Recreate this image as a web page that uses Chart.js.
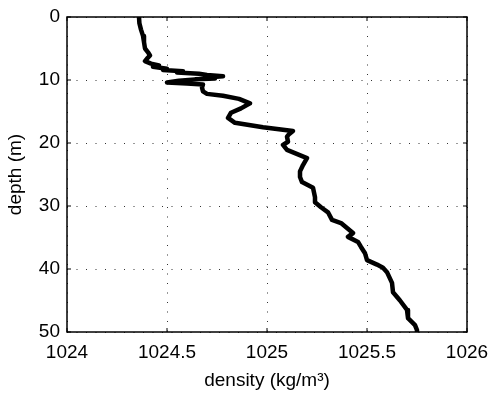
<!DOCTYPE html>
<html>
<head>
<meta charset="utf-8">
<script src="https://cdn.jsdelivr.net/npm/chart.js@4/dist/chart.umd.min.js"></script>
<style>
  html, body { margin: 0; padding: 0; background: #fff; }
  #wrap { width: 492px; height: 397px; }
</style>
</head>
<body>
<div id="wrap"><canvas id="profile"></canvas></div>
<script>
// depth profile (m, kg/m^3)
var depth = [0, 1, 2, 3, 4, 5, 5.6, 6.1, 6.6, 7.0, 7.4, 7.7, 7.9, 8.2, 8.4, 8.6, 8.8, 9.0, 9.2, 9.4,
    9.6, 9.75, 9.9, 10.1, 10.4, 10.55, 10.7, 11.2, 11.8, 12.2, 12.5, 13.0, 13.7, 14.5, 15.2, 16.0,
    16.8, 17.5, 18.1, 18.6, 19.0, 19.8, 20.3, 21.1, 22.4, 23.5, 24.5, 25.4, 26.2, 27.1, 28.6, 29.4,
    30.2, 31.0, 32.2, 32.7, 33.5, 34.3, 34.9, 35.7, 36.5, 37.5, 38.6, 39.3, 39.8, 40.5, 42.2, 43.7,
    45.0, 46.5, 47.8, 48.9, 49.7, 50];
var density = [1024.36, 1024.362, 1024.37, 1024.38, 1024.385, 1024.39, 1024.405, 1024.415, 1024.40, 1024.39,
    1024.42, 1024.46, 1024.43, 1024.50, 1024.48, 1024.58, 1024.55, 1024.66, 1024.70, 1024.78,
    1024.70, 1024.74, 1024.64, 1024.56, 1024.50, 1024.60, 1024.68, 1024.675, 1024.68, 1024.70, 1024.78,
    1024.86, 1024.915, 1024.87, 1024.82, 1024.805, 1024.84, 1024.98, 1025.13, 1025.11, 1025.10,
    1025.105, 1025.08, 1025.10, 1025.20, 1025.18, 1025.165, 1025.165, 1025.175, 1025.23, 1025.24,
    1025.24, 1025.27, 1025.305, 1025.325, 1025.37, 1025.40, 1025.43, 1025.405, 1025.455, 1025.47,
    1025.49, 1025.50, 1025.55, 1025.58, 1025.60, 1025.625, 1025.63, 1025.665, 1025.70, 1025.705,
    1025.74, 1025.75, 1025.75];
var xTicks = [1024, 1024.5, 1025, 1025.5, 1026];
var yTicks = [0, 10, 20, 30, 40, 50];

var fontFam = "'Liberation Sans', Arial, Helvetica, sans-serif";

var points = [];
for (var i = 0; i < depth.length; i++) {
    points.push({ x: density[i], y: depth[i] });
}

// box round the axes plus small inward ticks, matlab style
var boxPlugin = {
    id: 'boxPlugin',
    afterDraw: function (chart) {
        var ctx = chart.ctx, a = chart.chartArea;
        var sx = chart.scales.x, sy = chart.scales.y;
        ctx.save();
        ctx.strokeStyle = '#000';
        ctx.lineWidth = 1;
        ctx.beginPath();
        xTicks.forEach(function (v) {
            var px = sx.getPixelForValue(v);
            ctx.moveTo(px, a.bottom); ctx.lineTo(px, a.bottom - 4);
            ctx.moveTo(px, a.top); ctx.lineTo(px, a.top + 4);
        });
        yTicks.forEach(function (v) {
            var py = sy.getPixelForValue(v);
            ctx.moveTo(a.left, py); ctx.lineTo(a.left + 4, py);
            ctx.moveTo(a.right, py); ctx.lineTo(a.right - 4, py);
        });
        ctx.stroke();
        ctx.lineWidth = 1.5;
        ctx.strokeRect(a.left, a.top, a.right - a.left, a.bottom - a.top);
        ctx.restore();
    }
};

new Chart(document.getElementById("profile").getContext("2d"), {
    type: 'scatter',
    data: {
        datasets: [{
            data: points,
            showLine: true,
            borderColor: '#000',
            borderWidth: 4.5,
            borderJoinStyle: 'round',
            borderCapStyle: 'round',
            pointRadius: 0,
            tension: 0,
            fill: false
        }]
    },
    options: {
        responsive: true,
        maintainAspectRatio: false,
        animation: false,
        layout: { padding: { top: 17, right: 25, left: 0, bottom: 0 } },
        plugins: { legend: { display: false }, tooltip: { enabled: false } },
        scales: {
            x: {
                type: 'linear',
                min: 1024, max: 1026,
                afterBuildTicks: function (scale) {
                    scale.ticks = xTicks.map(function (v) { return { value: v }; });
                },
                afterFit: function (scale) {
                    scale.height = 65;
                    scale.paddingLeft = 0;
                    scale.paddingRight = 0;
                },
                ticks: {
                    autoSkip: false, maxRotation: 0, padding: 9, color: '#000',
                    font: { family: fontFam, size: 19 },
                    callback: function (v) { return String(v); }
                },
                grid: { color: '#333', lineWidth: 1, drawTicks: false },
                border: { display: false, dash: [1, 8.5] },
                title: {
                    display: true, text: 'density (kg/m\u00B3)', color: '#000',
                    font: { family: fontFam, size: 19 }, padding: { top: 0, bottom: 5 }
                }
            },
            y: {
                type: 'linear',
                reverse: true,
                min: 0, max: 50,
                afterBuildTicks: function (scale) {
                    scale.ticks = yTicks.map(function (v) { return { value: v }; });
                },
                afterFit: function (scale) {
                    scale.width = 67;
                    scale.paddingTop = 0;
                    scale.paddingBottom = 0;
                },
                ticks: {
                    autoSkip: false, padding: 7, color: '#000',
                    font: { family: fontFam, size: 19 },
                    callback: function (v) { return String(v); }
                },
                grid: { color: '#333', lineWidth: 1, drawTicks: false },
                border: { display: false, dash: [1, 8.5] },
                title: {
                    display: true, text: 'depth (m)', color: '#000',
                    font: { family: fontFam, size: 19 }, padding: { top: 4, bottom: 0 }
                }
            }
        }
    },
    plugins: [boxPlugin]
});
</script>
</body>
</html>
